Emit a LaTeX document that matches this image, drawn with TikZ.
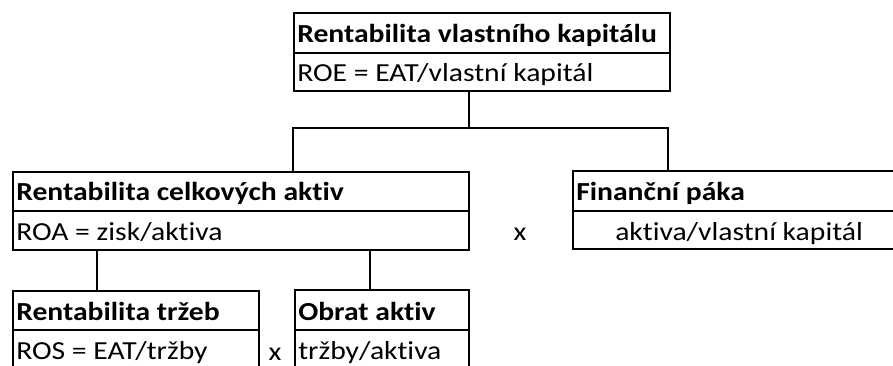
\documentclass[tikz,border=0pt]{standalone}
\usepackage{graphicx}
\usepackage{fontspec}
\setmainfont{Carlito}[Ligatures=NoCommon]
\newcommand{\stx}[1]{\scalebox{1.14}[1]{#1}}
\begin{document}
\begin{tikzpicture}[x=0.75pt,y=-0.75pt,
  cell/.style={draw=black,line width=1.4pt,inner sep=0pt,anchor=north west},
  lbl/.style={inner sep=0pt,anchor=base west,font=\fontsize{19.5}{23}\selectfont},
  hd/.style={lbl,font=\fontsize{19.5}{23}\selectfont\bfseries},
  times/.style={inner sep=0pt,anchor=base,font=\fontsize{19.5}{23}\selectfont},
  conn/.style={draw=black,line width=1.4pt}]
\useasboundingbox (0,0) rectangle (893,365);
\clip (0,0) rectangle (893,365);
% boxes (px -> 0.75pt)
\node[cell,minimum width=282pt,minimum height=30pt] (roeH) at (293,12) {};
\node[cell,minimum width=282pt,minimum height=28.5pt] (roeB) at (293,52) {};
\node[cell,minimum width=342pt,minimum height=29.25pt] (roaH) at (12,171) {};
\node[cell,minimum width=342pt,minimum height=29.25pt] (roaB) at (12,210) {};
\node[cell,minimum width=250pt,minimum height=30pt] (finH) at (572,170) {};
\node[cell,minimum width=250pt,minimum height=28.5pt] (finB) at (572,210) {};
\node[cell,minimum width=184.5pt,minimum height=29.25pt] (rosH) at (12,290) {};
\node[cell,minimum width=184.5pt,minimum height=32pt] (rosB) at (12,329) {};
\node[cell,minimum width=130.5pt,minimum height=30pt] (obrH) at (294,289) {};
\node[cell,minimum width=130.5pt,minimum height=32pt] (obrB) at (294,329) {};
% texts
\node[hd] (t1) at (297,42) {\stx{Rentabilita vlastního kapitálu}};
\node[lbl] (t2) at (297,81) {\stx{ROE = EAT/vlastní kapitál}};
\node[hd] (t3) at (16,200) {\stx{Rentabilita celkových aktiv}};
\node[lbl] (t4) at (16,240) {\stx{ROA = zisk/aktiva}};
\node[hd] (t5) at (576,200) {\stx{Finanční páka}};
\node[lbl] (t6) at (615,240) {\stx{aktiva/vlastní kapitál}};
\node[hd] (t7) at (16,320) {\stx{Rentabilita tržeb}};
\node[lbl] (t8) at (16,359) {\stx{ROS = EAT/tržby}};
\node[hd] (t9) at (298,320) {\stx{Obrat aktiv}};
\node[lbl] (t10) at (298,359) {\stx{tržby/aktiva}};
\node[times] (x1) at (520,240) {\stx{x}};
\node[times] (x2) at (275,360) {\stx{x}};
% connectors
\coordinate (jm) at (469,128);
\coordinate (jl) at (293,128);
\coordinate (jr) at (668,128);
\coordinate (bl) at (97,250);
\coordinate (br) at (370,250);
\draw[conn] (roeB.south -| jm) -- (jm);
\draw[conn] (roaH.north -| jl) -- (jl) -- (jr) -- (finH.north -| jr);
\draw[conn] (bl) -- (rosH.north -| bl);
\draw[conn] (br) -- (obrH.north -| br);
\end{tikzpicture}
\end{document}
